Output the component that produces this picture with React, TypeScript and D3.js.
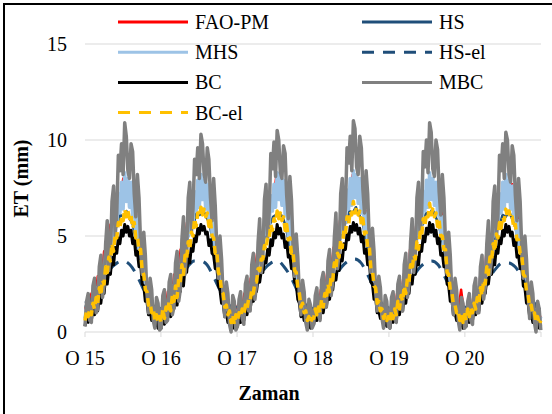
import React from 'react';
import * as d3 from 'd3';

const W = 552;
const H = 414;

// x axis: one tick per year (Ocak = O), last tick closes the axis
const tickYears = [2015, 2016, 2017, 2018, 2019, 2020, 2021];
const tickLabels = ['O 15', 'O 16', 'O 17', 'O 18', 'O 19', 'O 20', ''];
const yTicks = [0, 5, 10, 15];

// half-monthly values (24 per year), 2015..2020
const faoPm = [
  1.3, 0.9, 2.0, 1.5, 2.9, 2.6, 4.2, 3.8, 5.6, 5.3, 7.0, 6.6, 8.0, 7.3, 7.8, 6.5, 6.2, 4.4, 4.0, 2.2, 1.9, 1.0, 1.3, 0.8,
  1.2, 0.8, 2.1, 1.6, 3.0, 2.5, 4.3, 3.9, 5.7, 5.4, 7.1, 6.7, 7.9, 7.2, 7.7, 6.4, 6.1, 4.3, 3.9, 2.1, 1.8, 1.0, 1.2, 0.9,
  1.4, 0.9, 2.0, 1.4, 2.8, 2.7, 4.1, 3.9, 5.5, 5.4, 6.9, 6.6, 8.1, 7.4, 7.9, 6.6, 6.0, 4.5, 4.1, 2.2, 1.8, 1.1, 1.3, 0.8,
  1.3, 1.0, 2.2, 1.7, 3.1, 2.8, 4.4, 4.0, 5.8, 5.6, 7.2, 6.8, 8.2, 7.5, 8.0, 6.7, 6.3, 4.6, 4.2, 2.3, 2.0, 1.1, 1.4, 0.9,
  1.3, 0.9, 2.1, 1.6, 3.0, 2.6, 4.3, 3.9, 5.7, 5.5, 7.1, 6.7, 8.0, 7.4, 7.8, 6.6, 6.2, 4.5, 4.0, 2.2, 1.9, 1.0, 2.2, 0.9,
  1.3, 0.9, 2.0, 1.5, 2.9, 2.6, 4.2, 3.8, 5.6, 5.3, 7.0, 6.5, 7.9, 7.2, 7.7, 6.4, 6.0, 4.3, 3.9, 2.1, 1.8, 0.9, 1.2, 0.7,
];

const hs = [
  1.3, 1.5, 1.5, 2.1, 2.3, 3.1, 3.4, 4.3, 4.6, 5.4, 5.5, 6.1, 6.0, 6.3, 5.9, 5.6, 4.7, 4.0, 3.0, 2.3, 1.6, 1.5, 1.2, 1.3,
  1.2, 1.5, 1.6, 2.2, 2.4, 3.2, 3.5, 4.4, 4.7, 5.5, 5.6, 6.2, 6.1, 6.4, 6.0, 5.7, 4.8, 3.9, 3.1, 2.2, 1.7, 1.4, 1.2, 1.3,
  1.3, 1.4, 1.5, 2.0, 2.4, 3.0, 3.5, 4.2, 4.7, 5.3, 5.6, 6.0, 6.1, 6.2, 6.0, 5.5, 4.6, 4.0, 3.1, 2.1, 1.6, 1.5, 1.2, 1.2,
  1.3, 1.6, 1.6, 2.2, 2.5, 3.2, 3.6, 4.4, 4.8, 5.6, 5.7, 6.3, 6.2, 6.5, 6.1, 5.8, 4.9, 4.1, 3.2, 2.3, 1.7, 1.4, 1.3, 1.3,
  1.2, 1.5, 1.5, 2.1, 2.4, 3.1, 3.5, 4.3, 4.7, 5.5, 5.6, 6.2, 6.1, 6.4, 6.0, 5.6, 4.8, 4.0, 3.1, 2.3, 1.6, 1.4, 1.2, 1.3,
  1.3, 1.5, 1.5, 2.1, 2.3, 3.0, 3.4, 4.3, 4.6, 5.4, 5.5, 6.1, 6.0, 6.3, 5.9, 5.5, 4.6, 3.9, 2.9, 2.2, 1.5, 1.4, 1.2, 1.2,
];

// weekly-ish values (48 per year), 2015..2020
const mhs = [
  0.7, 1.3, 0.9, 1.5, 1.0, 1.9, 1.4, 2.3, 1.8, 2.9, 2.3, 3.4, 2.9, 4.1, 3.5, 4.7, 4.2, 5.6, 5.0, 6.3, 5.5, 7.2, 6.2, 7.8,
  6.4, 8.3, 6.8, 8.0, 6.5, 7.8, 6.0, 7.0, 5.0, 6.0, 4.3, 5.0, 3.0, 3.4, 2.2, 2.4, 1.3, 1.6, 0.9, 1.2, 0.6, 1.1, 0.6, 1.0,
  0.6, 1.4, 0.8, 1.6, 1.1, 2.0, 1.3, 2.4, 1.9, 3.0, 2.2, 3.5, 3.0, 4.2, 3.4, 4.8, 4.3, 5.7, 5.1, 6.4, 5.6, 7.3, 6.3, 7.9,
  6.5, 8.2, 6.9, 7.9, 6.4, 7.7, 5.9, 6.9, 5.1, 5.8, 4.2, 4.8, 2.9, 3.2, 2.1, 2.3, 1.2, 1.5, 0.8, 1.2, 0.5, 1.1, 0.5, 1.1,
  0.8, 1.2, 1.0, 1.4, 1.0, 1.8, 1.5, 2.2, 1.9, 2.8, 2.4, 3.3, 3.0, 4.0, 3.6, 4.6, 4.3, 5.5, 5.1, 6.2, 5.6, 7.1, 6.3, 7.7,
  6.5, 8.3, 6.9, 8.1, 6.6, 7.9, 6.1, 7.1, 5.0, 6.1, 4.4, 5.1, 3.1, 3.5, 2.3, 2.3, 1.2, 1.7, 0.9, 1.1, 0.7, 1.0, 0.6, 0.9,
  0.7, 1.5, 1.0, 1.6, 1.1, 2.1, 1.5, 2.5, 2.0, 3.1, 2.5, 3.6, 3.1, 4.3, 3.7, 4.9, 4.4, 5.8, 5.2, 6.5, 5.7, 7.4, 6.4, 8.0,
  6.6, 8.4, 7.0, 8.2, 6.7, 8.0, 6.2, 7.2, 5.2, 6.2, 4.5, 5.2, 3.1, 3.5, 2.3, 2.5, 1.3, 1.6, 1.0, 1.2, 0.8, 1.1, 0.7, 1.0,
  0.6, 1.4, 0.9, 1.5, 1.0, 2.0, 1.4, 2.4, 1.9, 3.0, 2.4, 3.5, 3.0, 4.2, 3.6, 4.8, 4.3, 5.7, 5.1, 6.4, 5.6, 7.3, 6.3, 7.9,
  6.5, 8.3, 6.9, 8.0, 6.6, 7.8, 6.1, 7.0, 5.1, 6.0, 4.4, 5.0, 3.0, 3.3, 2.2, 2.4, 1.2, 1.5, 0.9, 1.2, 0.6, 1.1, 0.6, 1.0,
  0.7, 1.3, 0.9, 1.5, 1.0, 1.9, 1.4, 2.3, 1.8, 2.9, 2.3, 3.4, 2.9, 4.1, 3.5, 4.7, 4.2, 5.6, 5.0, 6.3, 5.5, 7.2, 6.2, 7.8,
  6.4, 8.2, 6.8, 7.9, 6.4, 7.6, 5.9, 6.9, 4.9, 5.8, 4.2, 4.9, 2.9, 3.2, 2.1, 2.3, 1.2, 1.5, 0.8, 1.1, 0.6, 1.0, 0.5, 0.8,
];

// monthly values (12 per year)
const hsEl = [
  1.5, 1.7, 2.2, 2.8, 3.3, 3.6, 3.7, 3.5, 3.0, 2.3, 1.6, 1.3,
  1.4, 1.7, 2.2, 2.9, 3.4, 3.7, 3.7, 3.5, 2.9, 2.2, 1.6, 1.3,
  1.4, 1.6, 2.1, 2.8, 3.3, 3.6, 3.7, 3.4, 2.9, 2.2, 1.5, 1.2,
  1.3, 1.7, 2.2, 2.9, 3.4, 3.7, 3.8, 3.6, 3.0, 2.3, 1.6, 1.3,
  1.4, 1.7, 2.2, 2.8, 3.3, 3.6, 3.7, 3.5, 2.9, 2.2, 1.5, 1.3,
  1.4, 1.7, 2.1, 2.8, 3.3, 3.6, 3.6, 3.4, 2.9, 2.2, 1.5, 1.3,
];

const bc = [
  0.3, 0.8, 0.5, 0.9, 0.6, 1.2, 0.9, 1.5, 1.1, 1.9, 1.5, 2.3, 2.0, 2.9, 2.5, 3.3, 3.0, 3.9, 3.5, 4.4, 4.1, 4.9, 4.6, 5.3,
  5.0, 5.6, 5.2, 5.5, 5.0, 5.3, 4.6, 4.9, 4.0, 4.2, 3.4, 3.6, 2.5, 2.4, 1.6, 1.6, 0.9, 1.1, 0.6, 0.8, 0.3, 0.6, 0.2, 0.5,
  0.2, 0.9, 0.4, 1.0, 0.7, 1.3, 0.8, 1.6, 1.2, 2.0, 1.4, 2.4, 2.1, 3.0, 2.4, 3.4, 3.1, 4.0, 3.6, 4.5, 4.2, 5.0, 4.7, 5.4,
  5.1, 5.6, 5.3, 5.5, 5.1, 5.2, 4.5, 4.8, 4.1, 4.0, 3.3, 3.4, 2.4, 2.2, 1.5, 1.5, 0.8, 1.0, 0.5, 0.8, 0.2, 0.6, 0.2, 0.6,
  0.3, 0.7, 0.5, 0.9, 0.6, 1.1, 0.9, 1.4, 1.2, 1.8, 1.6, 2.2, 2.1, 2.8, 2.6, 3.2, 3.1, 3.8, 3.6, 4.3, 4.0, 4.8, 4.5, 5.2,
  4.9, 5.6, 5.1, 5.4, 4.9, 5.1, 4.4, 4.7, 3.9, 4.0, 3.3, 3.5, 2.6, 2.5, 1.7, 1.5, 0.8, 1.1, 0.6, 0.7, 0.3, 0.5, 0.2, 0.4,
  0.4, 0.9, 0.6, 1.0, 0.7, 1.3, 1.0, 1.6, 1.3, 2.0, 1.7, 2.4, 2.2, 3.0, 2.7, 3.4, 3.2, 4.0, 3.7, 4.6, 4.3, 5.1, 4.8, 5.5,
  5.2, 5.7, 5.3, 5.6, 5.1, 5.4, 4.7, 5.0, 4.1, 4.3, 3.5, 3.7, 2.6, 2.5, 1.7, 1.8, 1.0, 1.1, 0.7, 0.8, 0.4, 0.6, 0.3, 0.5,
  0.2, 0.8, 0.5, 0.9, 0.6, 1.2, 0.9, 1.5, 1.1, 1.9, 1.5, 2.3, 2.0, 2.9, 2.5, 3.3, 3.0, 3.9, 3.5, 4.5, 4.2, 5.0, 4.7, 5.4,
  5.1, 5.7, 5.2, 5.6, 5.0, 5.3, 4.6, 4.9, 4.0, 4.1, 3.4, 3.6, 2.5, 2.4, 1.6, 1.7, 0.9, 1.0, 0.6, 0.8, 0.3, 0.6, 0.2, 0.6,
  0.3, 0.9, 0.5, 1.0, 0.6, 1.2, 0.9, 1.5, 1.1, 1.9, 1.5, 2.3, 2.0, 2.8, 2.5, 3.2, 3.0, 3.9, 3.5, 4.4, 4.1, 4.9, 4.6, 5.3,
  5.0, 5.6, 5.2, 5.5, 5.0, 5.2, 4.5, 4.8, 3.9, 4.0, 3.3, 3.4, 2.4, 2.3, 1.5, 1.5, 0.8, 1.0, 0.5, 0.7, 0.2, 0.5, 0.2, 0.4,
];

const mbc = [
  0.3, 1.6, 2.0, 0.6, 0.5, 2.4, 2.8, 1.0, 1.2, 3.4, 4.0, 1.8, 2.4, 4.6, 5.8, 3.2, 4.0, 6.8, 7.6, 5.0, 6.2, 9.2, 8.4, 9.8,
  8.2, 10.9, 10.2, 8.4, 8.0, 9.8, 9.4, 7.2, 6.0, 8.2, 7.0, 4.6, 3.0, 5.2, 4.0, 2.0, 1.0, 2.8, 2.2, 0.6, 0.2, 1.8, 1.5, 0.1,
  0.2, 1.9, 2.2, 0.5, 0.6, 2.6, 3.0, 0.9, 1.3, 3.6, 4.2, 1.6, 2.2, 4.8, 6.0, 3.0, 4.2, 7.0, 7.8, 5.2, 6.4, 9.0, 8.2, 9.6,
  8.0, 10.3, 9.8, 8.2, 7.8, 9.6, 9.0, 7.0, 5.8, 8.0, 6.6, 4.4, 2.8, 5.0, 3.8, 1.8, 0.8, 2.6, 2.0, 0.4, 0.0, 1.9, 1.6, 0.1,
  0.3, 1.7, 2.1, 0.7, 0.4, 2.5, 2.9, 1.1, 1.1, 3.5, 4.1, 1.7, 2.5, 4.7, 5.9, 3.1, 3.9, 6.9, 7.7, 4.9, 6.3, 9.3, 8.5, 9.9,
  8.1, 10.5, 10.0, 8.3, 8.0, 9.7, 9.3, 7.1, 5.9, 8.1, 6.9, 4.5, 2.9, 5.1, 3.9, 1.9, 0.9, 2.7, 2.1, 0.5, 0.1, 1.7, 1.4, 0.2,
  0.4, 1.9, 2.3, 0.9, 0.6, 2.7, 3.1, 1.3, 1.3, 3.7, 4.3, 1.9, 2.6, 4.9, 6.2, 3.3, 4.1, 7.2, 8.0, 5.2, 6.5, 9.6, 8.8, 10.2,
  8.4, 11.0, 10.6, 8.6, 8.2, 10.2, 9.6, 7.4, 6.2, 8.4, 7.2, 4.8, 3.1, 5.4, 4.2, 2.1, 1.1, 2.9, 2.3, 0.7, 0.2, 1.9, 1.6, 0.3,
  0.2, 1.8, 2.1, 0.7, 0.5, 2.5, 2.9, 1.2, 1.1, 3.5, 4.1, 1.8, 2.4, 4.7, 5.9, 3.1, 3.9, 7.0, 7.8, 5.0, 6.3, 9.4, 8.6, 10.0,
  8.3, 10.9, 10.4, 8.5, 8.1, 10.0, 9.5, 7.3, 6.1, 8.2, 7.0, 4.6, 3.0, 5.2, 4.0, 2.0, 0.9, 2.8, 2.2, 0.6, 0.1, 1.8, 1.5, 0.2,
  0.3, 1.6, 2.0, 0.6, 0.4, 2.4, 2.8, 1.0, 1.0, 3.4, 4.0, 1.7, 2.3, 4.6, 5.8, 3.0, 3.8, 6.8, 7.6, 4.8, 6.1, 9.2, 8.4, 9.8,
  8.0, 10.4, 10.0, 8.2, 7.8, 9.7, 9.2, 7.1, 5.8, 8.0, 6.8, 4.4, 2.8, 5.0, 3.8, 1.9, 0.7, 2.6, 2.0, 0.5, 0.0, 1.6, 1.2, 0.1,
];

const bcEl = [
  0.6, 1.1, 0.8, 1.2, 0.9, 1.5, 1.2, 1.8, 1.5, 2.3, 1.9, 2.7, 2.5, 3.4, 3.1, 3.9, 3.7, 4.6, 4.2, 5.1, 4.9, 5.7, 5.4, 6.0,
  5.8, 6.4, 6.0, 6.3, 5.9, 6.1, 5.4, 5.7, 4.9, 5.0, 4.2, 4.3, 3.2, 3.0, 2.2, 2.1, 1.4, 1.5, 1.0, 1.2, 0.6, 0.9, 0.5, 0.8,
  0.5, 1.2, 0.7, 1.3, 1.0, 1.6, 1.1, 1.9, 1.6, 2.4, 1.8, 2.8, 2.6, 3.5, 3.0, 4.0, 3.8, 4.7, 4.3, 5.2, 5.0, 5.9, 5.5, 6.2,
  6.0, 6.5, 6.1, 6.4, 6.0, 6.2, 5.5, 5.8, 5.0, 4.9, 4.1, 4.2, 3.1, 2.9, 2.1, 2.0, 1.3, 1.4, 0.9, 1.1, 0.5, 0.9, 0.4, 0.9,
  0.6, 1.0, 0.8, 1.2, 0.9, 1.4, 1.2, 1.7, 1.6, 2.2, 2.0, 2.6, 2.6, 3.3, 3.2, 3.8, 3.8, 4.5, 4.3, 5.0, 4.9, 5.6, 5.3, 5.9,
  5.7, 6.3, 5.9, 6.2, 5.8, 6.0, 5.3, 5.6, 4.8, 4.9, 4.1, 4.2, 3.2, 3.1, 2.3, 2.0, 1.3, 1.5, 1.0, 1.1, 0.6, 0.8, 0.5, 0.7,
  0.7, 1.2, 0.9, 1.3, 1.0, 1.7, 1.3, 2.0, 1.7, 2.5, 2.1, 2.9, 2.7, 3.6, 3.3, 4.1, 3.9, 4.8, 4.4, 5.3, 5.1, 6.0, 5.6, 6.3,
  6.1, 6.8, 6.2, 6.5, 6.1, 6.3, 5.6, 5.9, 5.1, 5.2, 4.4, 4.5, 3.3, 3.2, 2.4, 2.3, 1.5, 1.6, 1.1, 1.2, 0.7, 0.9, 0.6, 0.8,
  0.5, 1.1, 0.7, 1.2, 0.9, 1.6, 1.2, 1.9, 1.6, 2.4, 2.0, 2.8, 2.6, 3.5, 3.2, 4.0, 3.8, 4.7, 4.3, 5.2, 5.0, 5.9, 5.5, 6.2,
  6.0, 6.7, 6.1, 6.4, 6.0, 6.2, 5.5, 5.8, 5.0, 5.0, 4.3, 4.3, 3.1, 3.0, 2.2, 2.1, 1.4, 1.4, 1.0, 1.1, 0.6, 0.9, 0.5, 0.9,
  0.6, 1.2, 0.8, 1.3, 1.0, 1.5, 1.2, 1.8, 1.5, 2.3, 1.9, 2.7, 2.5, 3.4, 3.0, 3.9, 3.7, 4.6, 4.2, 5.1, 4.9, 5.7, 5.4, 6.0,
  5.8, 6.4, 6.0, 6.3, 5.9, 6.0, 5.4, 5.6, 4.8, 4.8, 4.1, 4.1, 3.0, 2.9, 2.1, 2.0, 1.3, 1.4, 0.9, 1.0, 0.5, 0.8, 0.4, 0.6,
];

const series = [
  { name: 'FAO-PM', values: faoPm, color: '#FF0000', width: 2.5, dash: '' },
  { name: 'HS', values: hs, color: '#1F4E79', width: 2.5, dash: '' },
  { name: 'MHS', values: mhs, color: '#9DC3E6', width: 3.5, dash: '' },
  { name: 'HS-el', values: hsEl, color: '#1F4E79', width: 3, dash: '12 9' },
  { name: 'BC', values: bc, color: '#000000', width: 3, dash: '' },
  { name: 'MBC', values: mbc, color: '#808080', width: 3.5, dash: '' },
  { name: 'BC-el', values: bcEl, color: '#FFC000', width: 3.5, dash: '8 5' },
];

const font = 'Liberation Serif, Times New Roman, serif';

export default function App() {
  const start = new Date(2015, 0, 1);
  const end = new Date(2020, 11, 31);
  const x = d3.scaleTime().domain([start, new Date(2021, 0, 1)]).range([85, 541]);
  const y = d3.scaleLinear().domain([0, 15]).range([332, 44]);

  const paths = series.map((s) => {
    const t = d3.scaleLinear().domain([0, s.values.length - 1]).range([start.getTime(), end.getTime()]);
    const line = d3
      .line<number>()
      .x((_, i) => x(new Date(t(i))))
      .y((d) => y(d))
      .curve(s.name === 'HS-el' ? d3.curveMonotoneX : d3.curveLinear);
    return { ...s, d: line(s.values) || '' };
  });

  const legendCols = [118, 362];
  const legendRow = (r: number) => 22 + r * 30.2;
  const txt = { fontFamily: font, fontSize: 20, fill: '#000' };

  return (
    <svg width={W} height={H} style={{ position: 'absolute', left: 0, top: 0, background: '#fff' }}>
      <rect x={0} y={0} width={W} height={H} fill="#fff" />

      {/* gridlines */}
      {yTicks.map((v) => (
        <line key={v} x1={85} x2={541} y1={y(v)} y2={y(v)} stroke="#d9d9d9" strokeWidth={1} />
      ))}
      {yTicks.map((v) => (
        <text key={'l' + v} x={67} y={y(v) + 7} textAnchor="end" style={txt}>
          {v}
        </text>
      ))}

      {/* x ticks */}
      {tickYears.map((yr, i) => {
        const px = x(new Date(yr, 0, 1));
        return (
          <g key={yr}>
            <line x1={px} x2={px} y1={332} y2={337} stroke="#d9d9d9" strokeWidth={1} />
            <text x={px} y={365} textAnchor="middle" style={txt}>
              {tickLabels[i]}
            </text>
          </g>
        );
      })}

      {/* series */}
      {paths.map((p) => (
        <path
          key={p.name}
          d={p.d}
          fill="none"
          stroke={p.color}
          strokeWidth={p.width}
          strokeDasharray={p.dash || undefined}
          strokeLinejoin="round"
        />
      ))}

      {/* legend */}
      {series.map((s, i) => {
        const col = i % 2;
        const row = Math.floor(i / 2);
        const lx = legendCols[col];
        const ly = legendRow(row);
        return (
          <g key={'lg' + s.name}>
            <line
              x1={lx}
              x2={lx + 70}
              y1={ly}
              y2={ly}
              stroke={s.color}
              strokeWidth={3}
              strokeDasharray={s.dash ? '12 9' : undefined}
            />
            <text x={lx + 77} y={ly + 7} style={txt}>
              {s.name}
            </text>
          </g>
        );
      })}

      {/* axis titles */}
      <text transform="translate(28,178.5) rotate(-90)" textAnchor="middle" style={{ ...txt, fontWeight: 'bold' }}>
        ET (mm)
      </text>
      <text x={269} y={400} textAnchor="middle" style={{ ...txt, fontWeight: 'bold' }}>
        Zaman
      </text>

      {/* chart frame */}
      <rect x={4} y={4} width={600} height={500} fill="none" stroke="#000" strokeWidth={2} />
    </svg>
  );
}
